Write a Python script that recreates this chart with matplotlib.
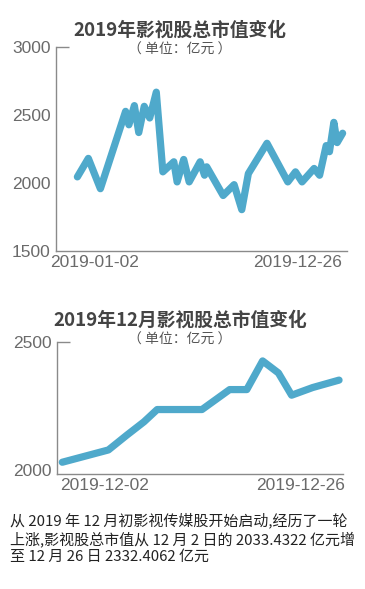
import matplotlib
matplotlib.use("Agg")
import matplotlib.pyplot as plt

plt.rcParams['font.family'] = ['Noto Sans CJK SC', 'DejaVu Sans']

# whole year (x = trading-day index)
year_x = [0, 10, 21, 44, 47, 52, 56, 61, 66, 72, 78, 88, 91, 97, 102, 112, 116, 118,
          133, 143, 150, 156, 173, 192, 199, 205, 216, 221, 227, 230, 234, 237, 242]
year_y = [2045, 2181, 1958, 2527, 2428, 2569, 2371, 2564, 2478, 2668, 2082, 2156, 2008,
          2173, 2008, 2156, 2057, 2119, 1908, 1988, 1804, 2069, 2292, 2008, 2082, 2008,
          2107, 2057, 2275, 2230, 2446, 2297, 2366]
year_ticks = [16, 201]
year_labels = ['2019-01-02', '2019-12-26']
year_yticks = [1500, 2000, 2500, 3000]

# December
dec_x = [0, 3.5, 4.9, 6.2, 7.2, 10.6, 12.7, 14, 15.2, 16.4, 17.4, 19, 21]
dec_y = [2030, 2078, 2136, 2188, 2236, 2236, 2314, 2314, 2426, 2379, 2292, 2322, 2351]
dec_ticks = [3.2, 18.05]
dec_labels = ['2019-12-02', '2019-12-26']
dec_yticks = [2000, 2500]

note = ("从 2019 年 12 月初影视传媒股开始启动,经历了一轮\n"
        "上涨,影视股总市值从 12 月 2 日的 2033.4322 亿元增\n"
        "至 12 月 26 日 2332.4062 亿元")

LINE = '#4fa9cb'
AXC = '#8a8a8a'
TXT = '#6a6a6a'
W, H = 365, 589

fig = plt.figure(figsize=(W / 100, H / 100), dpi=100)


def box(l, r, b, t):
    return [l / W, 1 - b / H, (r - l) / W, (b - t) / H]


def style(ax, xt, xl, yt):
    for s in ['top', 'right']:
        ax.spines[s].set_visible(False)
    for s in ['left', 'bottom']:
        ax.spines[s].set_color(AXC)
        ax.spines[s].set_linewidth(1)
    ax.set_yticks(yt)
    ax.set_yticklabels([str(v) for v in yt], family='Liberation Sans',
                       fontsize=12.5, color=TXT)
    ax.tick_params(axis='y', length=0, pad=4)
    ax.set_xticks(xt)
    ax.set_xticklabels(xl, family='Liberation Sans', fontsize=12.5, color=TXT)
    ax.tick_params(axis='x', length=0, pad=3)
    # little mark at top of the y axis
    ax.plot([0, 0.045], [1, 1], transform=ax.transAxes, color=AXC, lw=1,
            clip_on=False, solid_capstyle='butt')


ax1 = fig.add_axes(box(56, 347, 251, 47))
ax1.plot(year_x, year_y, color=LINE, lw=5.2, solid_joinstyle='round',
         solid_capstyle='round')
ax1.set_xlim(-19.5, 246)
ax1.set_ylim(1500, 3000)
style(ax1, year_ticks, year_labels, year_yticks)

ax2 = fig.add_axes(box(57, 343, 474, 342))
ax2.plot(dec_x, dec_y, color=LINE, lw=5.2, solid_joinstyle='round',
         solid_capstyle='round')
ax2.set_xlim(-0.4, 21.3)
ax2.set_ylim(1984, 2500)
style(ax2, dec_ticks, dec_labels, dec_yticks)

fig.text(180 / W, 1 - 30 / H, '2019年影视股总市值变化', ha='center', va='center',
         fontsize=13.5, fontweight='bold', color='#444444')
fig.text(180 / W, 1 - 50 / H, '（ 单位：亿元 ）', ha='center', va='center',
         fontsize=10, color='#555555')
fig.text(180 / W, 1 - 320 / H, '2019年12月影视股总市值变化', ha='center', va='center',
         fontsize=13.5, fontweight='bold', color='#444444')
fig.text(180 / W, 1 - 340 / H, '（ 单位：亿元 ）', ha='center', va='center',
         fontsize=10, color='#555555')

fig.text(10 / W, 1 - 513 / H, note, ha='left', va='top', fontsize=10.8,
         color='#222222', linespacing=1.2)

fig.savefig('out.png', dpi=100, facecolor='white')
